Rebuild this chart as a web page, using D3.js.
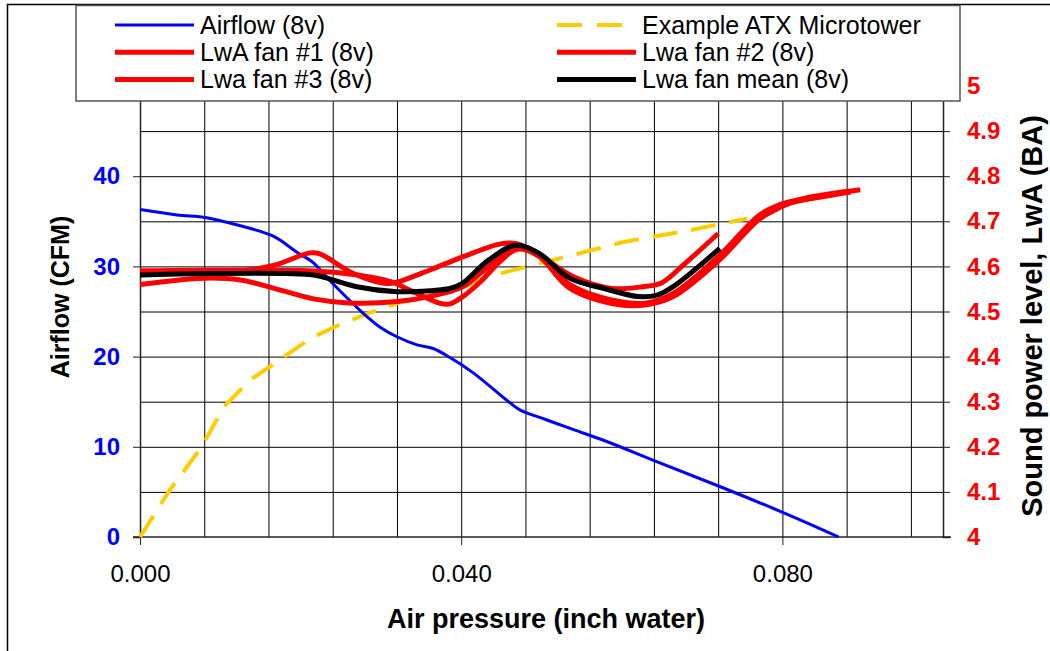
<!DOCTYPE html>
<html>
<head>
<meta charset="utf-8">
<script src="https://cdn.jsdelivr.net/npm/d3@7/dist/d3.min.js"></script>
<style>
    body { margin: 0; background: #fff; }
    #chart-area { width: 1050px; height: 651px; }
    text { font-family: "Liberation Sans", Arial, sans-serif; }
</style>
</head>
<body>
<div id="chart-area"></div>
<script>
/*
Fan airflow and sound power vs. air pressure (8v)
Left axis: airflow (CFM), right axis: sound power level LwA (BA)
*/

// ---- data: [pressure (inch water), value] ----
const airflow8v = [[0, 36.3], [0.0046, 35.7], [0.0083, 35.4], [0.0125, 34.5], [0.0166, 33.35], [0.0195, 31.6],
    [0.0216, 30.4], [0.024, 28.1], [0.0278, 24.8], [0.030, 23.2], [0.032, 22.2], [0.0345, 21.3], [0.0365, 20.9],
    [0.0386, 19.9], [0.0415, 18.2], [0.0459, 15.0], [0.0473, 14.1], [0.0506, 13.0], [0.054, 11.9], [0.0578, 10.7],
    [0.0645, 8.3], [0.0722, 5.6], [0.0809, 2.4], [0.0870, 0]];

// system impedance curve, in CFM
const atxMicrotower = [[0, 0], [0.0037, 5.2], [0.0077, 10.0], [0.0104, 14.4], [0.0137, 17.4], [0.0162, 18.9],
    [0.0212, 22.0], [0.024, 23.2], [0.0278, 24.6], [0.032, 25.9], [0.0403, 27.7], [0.043, 28.8], [0.053, 31.06],
    [0.0602, 32.7], [0.0684, 34.0], [0.0756, 35.3]];

// sound power, BA
const lwaFan1 = [[0, 4.560], [0.008, 4.574], [0.0125, 4.570], [0.0166, 4.552], [0.0216, 4.528], [0.026, 4.519],
    [0.032, 4.522], [0.036, 4.533], [0.0402, 4.555], [0.0424, 4.585], [0.0449, 4.622], [0.047, 4.645],
    [0.0497, 4.628], [0.0535, 4.560], [0.0597, 4.522], [0.0631, 4.519], [0.0664, 4.540], [0.0722, 4.625],
    [0.077, 4.712], [0.0794, 4.735], [0.0842, 4.756], [0.0897, 4.770]];

const lwaFan2 = [[0, 4.59], [0.0125, 4.59], [0.0166, 4.602], [0.0212, 4.630], [0.0224, 4.628], [0.0265, 4.585],
    [0.0307, 4.562], [0.032, 4.565], [0.0361, 4.592], [0.0402, 4.621], [0.0449, 4.650], [0.047, 4.650],
    [0.0497, 4.625], [0.054, 4.577], [0.0588, 4.551], [0.0626, 4.555], [0.065, 4.564], [0.0674, 4.599],
    [0.072, 4.673]];

const lwaFan3 = [[0, 4.59], [0.0216, 4.59], [0.0271, 4.581], [0.0312, 4.566], [0.034, 4.544], [0.0374, 4.518],
    [0.0386, 4.517], [0.0402, 4.533], [0.0424, 4.566], [0.0449, 4.612], [0.047, 4.638], [0.0497, 4.622],
    [0.0535, 4.552], [0.0597, 4.515], [0.0631, 4.515], [0.0664, 4.533], [0.0722, 4.615], [0.077, 4.703],
    [0.0794, 4.728], [0.0809, 4.740], [0.0842, 4.752], [0.0885, 4.765]];

const lwaFanMean = [[0, 4.581], [0.0216, 4.581], [0.024, 4.570], [0.027, 4.555], [0.032, 4.544], [0.0361, 4.546],
    [0.0386, 4.551], [0.0401, 4.562], [0.0434, 4.614], [0.0468, 4.647], [0.0497, 4.629], [0.0535, 4.574],
    [0.0578, 4.551], [0.0621, 4.533], [0.0645, 4.537], [0.0664, 4.555], [0.0722, 4.640]];

// ---- ticks ----
const xTicks = [0, 0.04, 0.08];
const leftTicks = [0, 10, 20, 30, 40];
const rightTicks = [4, 4.1, 4.2, 4.3, 4.4, 4.5, 4.6, 4.7, 4.8, 4.9, 5];

const legendNames = ["Airflow (8v)", "Example ATX Microtower", "LwA fan #1 (8v)", "Lwa fan #2 (8v)",
    "Lwa fan #3 (8v)", "Lwa fan mean (8v)"];


class FanNoiseVis {

    constructor(parentElement) {
        this.parentElement = parentElement;

        this.initVis()
    }

    initVis() {
        let vis = this;

        vis.margin = {top: 86, right: 107, bottom: 114, left: 140};
        vis.width = 1050 - vis.margin.left - vis.margin.right;
        vis.height = 651 - vis.margin.top - vis.margin.bottom;

        vis.svgRoot = d3.select("#" + vis.parentElement).append("svg")
            .attr("width", 1050)
            .attr("height", 651);

        // chart area border (only top and left show)
        vis.svgRoot.append("rect")
            .attr("x", 7.5).attr("y", 4.5)
            .attr("width", 1100).attr("height", 700)
            .attr("fill", "#fff")
            .attr("stroke", "#000")
            .attr("stroke-width", 1.5);

        vis.svg = vis.svgRoot.append("g")
            .attr("transform", `translate(${vis.margin.left}, ${vis.margin.top})`);

        // scales
        vis.x = d3.scaleLinear().domain([0, 0.1]).range([0, vis.width]);
        vis.yLeft = d3.scaleLinear().domain([0, 50]).range([vis.height, 0]);
        vis.yRight = d3.scaleLinear().domain([4, 5]).range([vis.height, 0]);

        // gridlines
        vis.svg.append("g")
            .attr("class", "grid")
            .call(d3.axisLeft(vis.yLeft).tickValues(d3.range(5, 50, 5)).tickSize(-vis.width).tickFormat(""))
            .call(g => g.select(".domain").remove());
        vis.svg.append("g")
            .attr("class", "grid")
            .call(d3.axisTop(vis.x).tickValues(d3.range(1, 13).map(i => i * 0.008)).tickSize(-vis.height).tickFormat(""))
            .call(g => g.select(".domain").remove());
        vis.svg.selectAll(".grid line").attr("stroke", "#000").attr("stroke-width", 1);

        // axes
        vis.xAxisG = vis.svg.append("g")
            .attr("transform", `translate(0, ${vis.height})`)
            .call(d3.axisBottom(vis.x).tickValues(xTicks).tickSize(8).tickPadding(20).tickFormat(d3.format(".3f")));
        vis.xAxisG.select(".domain").attr("d", `M-7,0H${vis.width + 8}`);
        vis.xAxisG.selectAll("text").attr("fill", "#000").style("font-size", "24px");

        vis.leftAxisG = vis.svg.append("g")
            .call(d3.axisLeft(vis.yLeft).tickValues(leftTicks).tickSize(7).tickPadding(13).tickFormat(d3.format("d")));
        vis.leftAxisG.selectAll("text").attr("fill", "#0000ff").style("font-size", "24px").style("font-weight", "bold");

        vis.rightAxisG = vis.svg.append("g")
            .attr("transform", `translate(${vis.width}, 0)`)
            .call(d3.axisRight(vis.yRight).tickValues(rightTicks).tickSize(7).tickPadding(17).tickFormat(d => +d.toFixed(1)));
        vis.rightAxisG.selectAll("text").attr("fill", "#ff0000").style("font-size", "24px").style("font-weight", "bold");

        vis.svg.selectAll(".domain, .tick line").attr("stroke", "#222");
        vis.svg.selectAll(".grid .tick line").attr("stroke", "#000");
        vis.svg.selectAll(".domain").attr("stroke-width", 1.5);

        // axis titles
        vis.svgRoot.append("text")
            .attr("transform", "translate(69, 297) rotate(-90)")
            .attr("text-anchor", "middle")
            .style("font-size", "25px").style("font-weight", "bold")
            .text("Airflow (CFM)");
        vis.svgRoot.append("text")
            .attr("transform", "translate(1042, 316) rotate(-90)")
            .attr("text-anchor", "middle")
            .style("font-size", "29px").style("font-weight", "bold")
            .text("Sound power level, LwA (BA)");
        vis.svgRoot.append("text")
            .attr("x", 546).attr("y", 628)
            .attr("text-anchor", "middle")
            .style("font-size", "27px").style("font-weight", "bold")
            .text("Air pressure (inch water)");

        vis.linesG = vis.svg.append("g");
        vis.legendG = vis.svgRoot.append("g");

        vis.wrangleData()
    }

    wrangleData() {
        let vis = this;

        vis.series = [
            {name: legendNames[0], values: airflow8v, axis: "left", color: "#0000ff", width: 3, dash: null, smooth: true},
            {name: legendNames[1], values: atxMicrotower, axis: "left", color: "#ffcc00", width: 4, dash: "25,14", smooth: false},
            {name: legendNames[2], values: lwaFan1, axis: "right", color: "#ff0000", width: 5, dash: null, smooth: true},
            {name: legendNames[3], values: lwaFan2, axis: "right", color: "#ff0000", width: 5, dash: null, smooth: true},
            {name: legendNames[4], values: lwaFan3, axis: "right", color: "#ff0000", width: 5, dash: null, smooth: true},
            {name: legendNames[5], values: lwaFanMean, axis: "right", color: "#000000", width: 5, dash: null, smooth: true}
        ];

        // draw order: impedance curve underneath
        vis.drawOrder = [1, 0, 2, 3, 4, 5].map(i => vis.series[i]);

        vis.updateVis()
    }

    updateVis() {
        let vis = this;

        vis.linesG.selectAll("path")
            .data(vis.drawOrder)
            .join("path")
            .attr("fill", "none")
            .attr("stroke", d => d.color)
            .attr("stroke-width", d => d.width)
            .attr("stroke-dasharray", d => d.dash)
            .attr("stroke-linejoin", "round")
            .attr("d", d => {
                let y = d.axis === "left" ? vis.yLeft : vis.yRight;
                return d3.line()
                    .x(p => vis.x(p[0]))
                    .y(p => y(p[1]))
                    .curve(d.smooth ? d3.curveCatmullRom.alpha(0.5) : d3.curveLinear)(d.values);
            });

        // legend box
        vis.legendG.append("rect")
            .attr("x", 76).attr("y", 5.5)
            .attr("width", 884).attr("height", 95.5)
            .attr("fill", "#fff")
            .attr("stroke", "#555")
            .attr("stroke-width", 1.5);

        let items = vis.legendG.selectAll(".legend-item")
            .data(vis.series)
            .join("g")
            .attr("class", "legend-item")
            .attr("transform", (d, i) => `translate(${i % 2 === 0 ? 115 : 557}, ${25 + Math.floor(i / 2) * 27.2})`);

        items.append("line")
            .attr("x1", 0).attr("x2", 79)
            .attr("stroke", d => d.color)
            .attr("stroke-width", d => d.width)
            .attr("stroke-dasharray", d => d.dash ? "25,15" : null);

        items.append("text")
            .attr("x", 85).attr("y", 8.5)
            .style("font-size", "25px")
            .text(d => d.name);
    }
}

new FanNoiseVis("chart-area");
</script>
</body>
</html>
